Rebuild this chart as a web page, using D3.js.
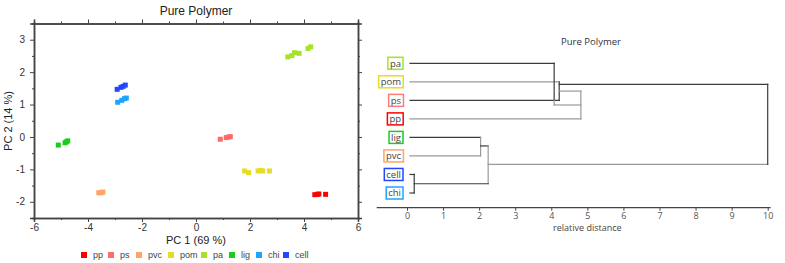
<!DOCTYPE html>
<html>
<head>
<meta charset="utf-8">
<script src="https://cdn.jsdelivr.net/npm/d3@7"></script>
<style>
  body { margin: 0; background: #fff; }
  svg { display: block; }
</style>
</head>
<body>
<svg id="chart" width="785" height="263"></svg>
<script>
// ---- PCA scores ----
const groups = ["pp", "ps", "pvc", "pom", "pa", "lig", "chi", "cell"]
const groupColors = ["#ff0000", "#ff6b6b", "#ffa466", "#e6dc28", "#a6e22a", "#1ccc1c", "#1ea4ff", "#2346ff"]
const ppPts = [[4.4, -1.78], [4.5, -1.77], [4.55, -1.76], [4.8, -1.77]]
const psPts = [[0.9, -0.07], [1.12, -0.02], [1.22, 0.0], [1.27, 0.01]]
const pvcPts = [[-3.6, -1.72], [-3.52, -1.72], [-3.45, -1.7]]
const pomPts = [[1.8, -1.05], [1.95, -1.1], [2.3, -1.05], [2.4, -1.03], [2.47, -1.05], [2.72, -1.05]]
const paPts = [[3.4, 2.47], [3.55, 2.51], [3.65, 2.6], [3.82, 2.58], [4.15, 2.73], [4.25, 2.78]]
const ligPts = [[-5.1, -0.25], [-4.85, -0.18], [-4.8, -0.15], [-4.75, -0.12]]
const chiPts = [[-2.9, 1.07], [-2.75, 1.13], [-2.65, 1.18], [-2.58, 1.2]]
const cellPts = [[-2.92, 1.47], [-2.78, 1.53], [-2.7, 1.56], [-2.62, 1.6]]
const allPts = [ppPts, psPts, pvcPts, pomPts, paPts, ligPts, chiPts, cellPts]

const xTicks = [-6, -4, -2, 0, 2, 4, 6]
const yTicks = [-2, -1, 0, 1, 2, 3]

// ---- dendrogram ----
const leaves = ["pa", "pom", "ps", "pp", "lig", "pvc", "cell", "chi"]
const leafColors = ["#a6e22a", "#e6dc28", "#ff7b7b", "#ff0000", "#1ccc1c", "#ffa466", "#2346ff", "#1ea4ff"]
// segments: [dist1, row1, dist2, row2, tone] (tone 0 dark, 1 grey)
const links = [
  [0, 0, 4.08, 0, 0],
  [0, 1, 4.22, 1, 1],
  [0, 2, 4.22, 2, 0],
  [0, 3, 4.82, 3, 1],
  [4.08, 0, 4.08, 2, 0],
  [4.08, 2, 4.08, 2.25, 1],
  [4.08, 2.25, 4.82, 2.25, 1],
  [4.22, 1, 4.22, 2, 0],
  [4.22, 1.14, 10, 1.14, 0],
  [4.22, 1.5, 4.82, 1.5, 1],
  [4.82, 1.5, 4.82, 3, 1],
  [0, 4, 2.04, 4, 0],
  [0, 5, 2.04, 5, 1],
  [2.04, 4, 2.04, 5, 1],
  [2.04, 4.46, 2.25, 4.46, 0],
  [2.25, 4.46, 2.25, 6.5, 1],
  [0, 6, 0.2, 6, 0],
  [0, 7, 0.2, 7, 0],
  [0.2, 6, 0.2, 7, 0],
  [0.2, 6.5, 2.25, 6.5, 0],
  [2.25, 5.45, 10, 5.45, 1],
  [10, 1.14, 10, 5.45, 0]
]
const distTicks = [0, 1, 2, 3, 4, 5, 6, 7, 8, 9, 10]

const svg = d3.select("#chart")
const axisCol = "#444"
const sans = "'Liberation Sans', Arial, sans-serif"

// ================= PCA scatter =================
const x = d3.scaleLinear().domain([-6, 6]).range([34, 358])
const y = d3.scaleLinear().domain([-2.5, 3.5]).range([218, 23.5])

const left = svg.append("g").attr("font-family", sans)

function frameAxis(axis, transform, labels) {
  const g = left.append("g").attr("transform", transform).call(axis)
  g.select(".domain").attr("stroke", axisCol).attr("stroke-width", 1.5)
  g.selectAll(".tick line").attr("stroke", axisCol).attr("stroke-width", 1)
  g.selectAll(".tick text").attr("fill", "#333").attr("font-size", 10).attr("font-family", sans)
  if (!labels) g.selectAll(".tick text").remove()
  return g
}
const xMinor = d3.range(-5, 6, 2)
const yMinor = d3.range(-2.5, 3.6, 1)
const plain = d => String(d)

// minor ticks
frameAxis(d3.axisBottom(x).tickValues(xMinor).tickSize(2).tickFormat(""), "translate(0,218)", false)
frameAxis(d3.axisTop(x).tickValues(xMinor).tickSize(2).tickFormat(""), "translate(0,23.5)", false)
frameAxis(d3.axisLeft(y).tickValues(yMinor).tickSize(2).tickFormat(""), "translate(34,0)", false)
frameAxis(d3.axisRight(y).tickValues(yMinor).tickSize(2).tickFormat(""), "translate(358,0)", false)
// major ticks
frameAxis(d3.axisBottom(x).tickValues(xTicks).tickFormat(plain).tickSize(4).tickPadding(2), "translate(0,218)", true)
frameAxis(d3.axisTop(x).tickValues(xTicks).tickSize(4), "translate(0,23.5)", false)
frameAxis(d3.axisLeft(y).tickValues(yTicks).tickFormat(plain).tickSize(4).tickPadding(5), "translate(34,0)", true)
frameAxis(d3.axisRight(y).tickValues(yTicks).tickSize(4), "translate(358,0)", false)

left.append("text").attr("x", 196).attr("y", 15).attr("text-anchor", "middle")
  .attr("font-size", 12).attr("fill", "#222").text("Pure Polymer")
left.append("text").attr("x", 196).attr("y", 244).attr("text-anchor", "middle")
  .attr("font-size", 11).attr("fill", "#222").text("PC 1 (69 %)")
left.append("text").attr("transform", "translate(12,121) rotate(-90)").attr("text-anchor", "middle")
  .attr("font-size", 11).attr("fill", "#222").text("PC 2 (14 %)")

const ms = 5
groups.forEach((gname, i) => {
  left.append("g").selectAll("rect").data(allPts[i]).join("rect")
    .attr("x", d => x(d[0]) - ms / 2)
    .attr("y", d => y(d[1]) - ms / 2)
    .attr("width", ms).attr("height", ms)
    .attr("fill", groupColors[i])
})

// legend
const legX = [84, 111, 139, 171, 204, 232, 259, 286]
const leg = left.append("g").selectAll("g").data(groups).join("g")
  .attr("transform", (d, i) => `translate(${legX[i]},255)`)
leg.append("rect").attr("x", -3).attr("y", -3).attr("width", 6).attr("height", 6)
  .attr("fill", (d, i) => groupColors[i])
leg.append("text").attr("x", 9).attr("y", 3).attr("font-size", 9).attr("fill", "#444").text(d => d)

// ================= dendrogram =================
const dx = d3.scaleLinear().domain([0, 10]).range([407, 767.7])
const dy = d3.scaleLinear().domain([0, 7]).range([63.3, 193])
const dfont = "'Open Sans', 'Liberation Sans', sans-serif"
const right = svg.append("g").attr("font-family", dfont)

right.append("text").attr("x", 591).attr("y", 45).attr("text-anchor", "middle")
  .attr("font-size", 9.5).attr("fill", "#333").text("Pure Polymer")

right.append("g").selectAll("line").data(links).join("line")
  .attr("x1", d => dx(d[0]) + (d[0] === 0 ? 3 : 0))
  .attr("y1", d => dy(d[1]))
  .attr("x2", d => dx(d[2]) + (d[2] === 0 ? 3 : 0))
  .attr("y2", d => dy(d[3]))
  .attr("stroke", d => d[4] ? "#9a9a9a" : "#3c3c3c")
  .attr("stroke-width", 1.2)
  .attr("stroke-linecap", "square")

const lab = right.append("g").selectAll("g").data(leaves).join("g")
  .attr("transform", (d, i) => `translate(403,${dy(i)})`)
lab.append("text").attr("x", -2).attr("y", 3.3).attr("text-anchor", "end")
  .attr("font-size", 9.5).attr("fill", "#444").text(d => d)
lab.each(function (d, i) {
  const g = d3.select(this)
  const bb = g.select("text").node().getBBox()
  g.insert("rect", "text")
    .attr("x", bb.x - 2).attr("y", -6).attr("width", bb.width + 4).attr("height", 12)
    .attr("fill", "#fff").attr("stroke", leafColors[i]).attr("stroke-width", 1.5)
})

const dAxis = right.append("g").attr("transform", "translate(0,207.7)")
  .call(d3.axisBottom(dx).tickValues(distTicks).tickSize(3).tickPadding(2))
dAxis.select(".domain").remove()
dAxis.selectAll(".tick line").attr("stroke", axisCol)
dAxis.selectAll(".tick text").attr("font-size", 9).attr("fill", "#555").attr("font-family", dfont)
dAxis.append("line").attr("x1", dx(-0.84)).attr("x2", dx(10.08))
  .attr("stroke", axisCol).attr("stroke-width", 1.3)
right.append("text").attr("x", dx(5)).attr("y", 231).attr("text-anchor", "middle")
  .attr("font-size", 9).attr("fill", "#444").text("relative distance")
</script>
</body>
</html>
